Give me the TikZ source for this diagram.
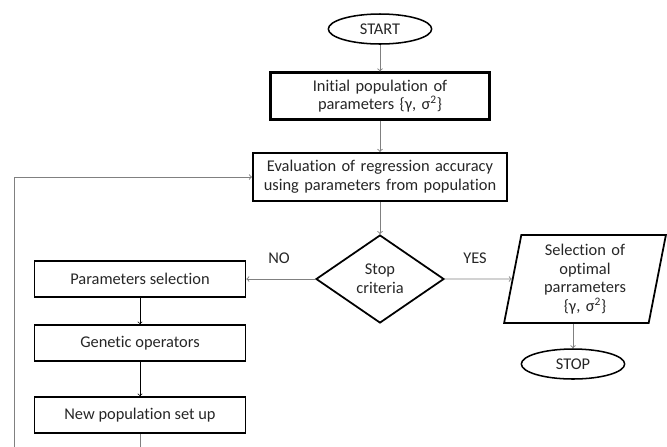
\documentclass[tikz,border=0pt]{standalone}
\usepackage{fontspec}
\setmainfont[Ligatures=NoCommon]{Carlito}
\usepackage{xcolor}
\usepackage{tikz}
\usetikzlibrary{shapes.geometric, arrows, positioning, calc}
\tikzstyle{TERM}  = [draw=black,        % color for LINES
                     line width=1.3pt,  % control line width.
                     ellipse,           % Start / stop shape
                     inner sep=0pt,
                     minimum width=3.1cm,
                     minimum height=0.9cm]
\tikzstyle{BOX}   = [draw=black,        % color for LINES
                     line width=1.8pt,  % control line width.
                     fill=white,
                     text centered,
                     rectangle,         % Box shape
                     inner sep=0pt]
\tikzstyle{BOXS}  = [draw=black,        % color for LINES
                     line width=1.4pt,  % control line width.
                     text centered,
                     rectangle,         % Box shape
                     inner sep=0pt,
                     minimum width=6.33cm,
                     minimum height=1.08cm]
\tikzstyle{DEC}   = [draw=black,        % color for LINES
                     line width=1.5pt,  % control line width.
                     diamond,           % Decision shape
                     aspect=1.45,
                     inner sep=0pt,
                     minimum width=3.84cm,
                     minimum height=2.64cm]
\tikzstyle{IO}    = [draw=black,        % color for LINES
                     line width=1.5pt,  % control line width.
                     trapezium,         % Parallelogram shape
                     trapezium left angle=77,
                     trapezium right angle=103,
                     trapezium stretches=true,
                     text centered,
                     inner sep=0pt,
                     text width=3.6cm,
                     minimum width=4.86cm,
                     minimum height=2.64cm]
\tikzstyle{ARROW} = [line width=0.8pt, draw=black!50, ->, >=to]
\tikzstyle{ARROWS}= [line width=0.6pt, draw=black, ->, >=to]
\tikzstyle{LABEL} = [draw=none, font=\fontsize{14}{16}\selectfont]

\begin{document}
\begin{tikzpicture}[node distance=2cm, font=\fontsize{14}{16}\selectfont, text=black!85]
		\useasboundingbox (0,0) rectangle (20.01,-13.38);
		
		% Start
		\node(start)[TERM] at (11.40,-0.87)
		{
			START
		};
		\node(init)[BOX, below of = start, node distance = 2.01cm,
		minimum width = 6.57cm, minimum height = 1.41cm, text width = 6.3cm]
		{
			Initial population of\\
			parameters \{γ, σ\textsuperscript{2}\}
		};
		\node(eval)[BOX, below of = init, node distance = 2.43cm,
		minimum width = 7.62cm, minimum height = 1.44cm, text width = 7.4cm]
		{
			Evaluation of regression accuracy\\
			using parameters from population
		};
		
		
		
		
		
		% Decision
		\node(crit)[DEC, below of = eval, node distance = 3.06cm, align=center]
		{
			Stop\\
			criteria
		};
		
		
		
		
		
		% Genetic loop
		\node(params)[BOXS, left of = crit, node distance = 7.2cm]
		{
			Parameters selection
		};
		\node(genetic)[BOXS, below of = params, node distance = 1.92cm]
		{
			Genetic operators
		};
		\node(newpop)[BOXS, below of = genetic, node distance = 2.16cm]
		{
			New population set up
		};
		
		
		
		
		
		% Result
		\node(sel)[IO, right of = crit, node distance = 6.15cm]
		{
			Selection of\\
			optimal\\
			parrameters\\
			\{γ, σ\textsuperscript{2}\}
		};
		\node(stop)[TERM, below of = sel, node distance = 2.55cm, xshift=-0.36cm]
		{
			STOP
		};
		
		
		
		
		
		% Labels
		\node(no)[LABEL] at (8.37,-7.74) {NO};
		\node(yes)[LABEL] at (14.25,-7.74) {YES};
		\coordinate(loop) at (0.42,-14.0);
		
		
		
		
		
		% Main flow
		\draw[ARROW] (start.south) -- (init.north);
		\draw[ARROW] (init.south) -- (eval.north);
		\draw[ARROW] (eval.south) -- (crit.north);
		% Branches
		\draw[ARROW] (crit.west) -- (params.east);
		\draw[ARROW] (crit.east) -- (sel.west);
		\draw[ARROW] (stop.north |- sel.south) -- (stop.north);
		% Genetic operations
		\draw[ARROWS] (params.south) -- (genetic.north);
		\draw[ARROWS] (genetic.south) -- (newpop.north);
		% Back to evaluation
		\draw[ARROW] (newpop.south) |- (loop) |- (eval.west);
		
\end{tikzpicture}
\end{document}
